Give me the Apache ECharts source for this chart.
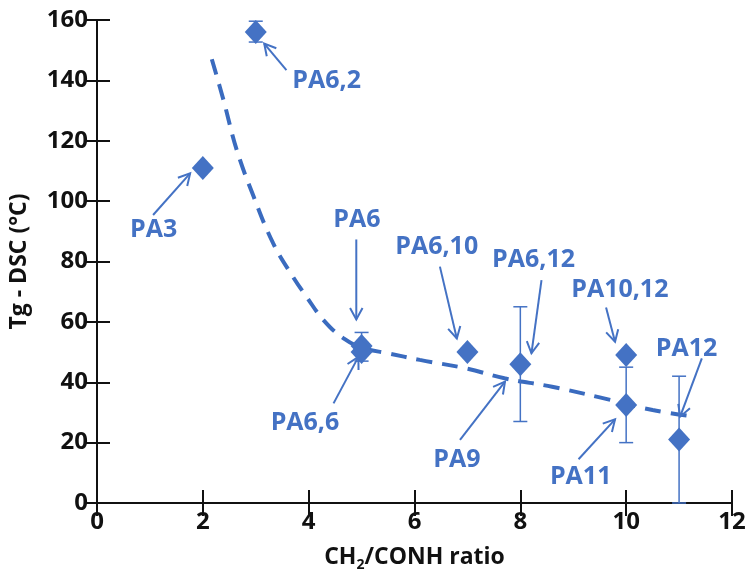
<!DOCTYPE html>
<html>
<head>
<meta charset="utf-8">
<script src="https://cdn.jsdelivr.net/npm/echarts@6/dist/echarts.min.js"></script>
<style>
  html, body { margin: 0; padding: 0; background: #fff; }
  #main { width: 747px; height: 575px; }
</style>
</head>
<body>
<div id="main"></div>
<script>
// measured points (diamonds)
var ratio = [2, 3, 5, 5, 7, 8, 10, 10, 11];
var tg = [111, 156, 52, 50, 50, 46, 49, 32.5, 21];

// error bars: [x, low, high]
var errX = [3, 5, 8, 10, 11];
var errLow = [152.7, 47, 27, 20, 0];
var errHigh = [159.6, 56.5, 65, 45, 42];

// dashed trend line
var trendX = [2.17, 2.39, 2.64, 2.96, 3.33, 3.7, 3.96, 4.28, 4.66, 5.03, 5.5, 6.1, 7.0, 7.7, 8.6, 9.5, 10.5, 11.3];
var trendY = [147, 133.5, 117, 101.5, 86, 75, 68.3, 60.6, 54.5, 51.3, 49.6, 47.4, 44.5, 41.3, 38.5, 35, 30.8, 28.6];

// labels and their arrows
var labelNames = ['PA6,2', 'PA3', 'PA6', 'PA6,6', 'PA6,10', 'PA6,12', 'PA10,12', 'PA12', 'PA9', 'PA11'];
var labelPos = [[4.34, 140], [1.07, 90.4], [4.91, 93.7], [3.93, 26.5], [6.42, 84.9], [8.25, 80.5], [9.88, 70.5], [11.14, 51.2], [6.8, 14.2], [9.14, 8.8]];
var arrowTail = [[3.58, 143.4], [1.06, 95.4], [4.9, 87.3], [4.47, 33], [6.48, 78.3], [8.4, 73.8], [9.62, 64.8], [11.43, 47.9], [6.86, 20.9], [9.1, 14.5]];
var arrowTip = [[3.16, 152.2], [1.76, 109.2], [4.9, 60.8], [4.94, 48.4], [6.8, 54.5], [8.21, 49.6], [9.79, 53.4], [11.02, 28.6], [7.71, 40.2], [9.79, 27.7]];

var blue = '#4472C4';
var font = '"Open Sans"';

var chart = echarts.init(document.getElementById('main'));

var axisLine = { show: true, lineStyle: { color: '#111', width: 2 } };
var axisTick = { show: true, inside: true, length: 13, lineStyle: { color: '#111', width: 2 } };

var option = {
    animation: false,
    grid: { left: 97, right: 15, top: 20, bottom: 72, outerBoundsMode: 'none', containLabel: false },
    xAxis: [
        {
            type: 'value', min: 0, max: 12, interval: 2,
            axisLine: axisLine, axisTick: axisTick, splitLine: { show: false },
            axisLabel: { color: '#111', fontFamily: font, fontWeight: 'bold', fontSize: 24, margin: 7 },
            name: '{a|CH}{s|2}{a|/CONH ratio}',
            nameLocation: 'middle', nameGap: 40,
            nameTextStyle: {
                rich: {
                    a: { color: '#111', fontFamily: font, fontWeight: 'bold', fontSize: 23 },
                    s: { color: '#111', fontFamily: font, fontWeight: 'bold', fontSize: 14, padding: [15, 0, 0, 0] }
                }
            }
        },
        {
            type: 'value', min: 0, max: 12, interval: 2, position: 'top',
            axisLine: axisLine, axisTick: axisTick, axisLabel: { show: false }, splitLine: { show: false }
        }
    ],
    yAxis: [
        {
            type: 'value', min: 0, max: 160, interval: 20,
            axisLine: axisLine, axisTick: axisTick, splitLine: { show: false },
            axisLabel: { color: '#111', fontFamily: font, fontWeight: 'bold', fontSize: 24, margin: 9 },
            name: 'Tg - DSC (°C)', nameLocation: 'middle', nameGap: 66,
            nameTextStyle: { color: '#111', fontFamily: font, fontWeight: 'bold', fontSize: 23 }
        },
        {
            type: 'value', min: 0, max: 160, interval: 20, position: 'right',
            axisLine: axisLine, axisTick: axisTick, axisLabel: { show: false }, splitLine: { show: false }
        }
    ],
    series: [
        {
            type: 'line',
            data: trendX.map(function (x, i) { return [x, trendY[i]]; }),
            smooth: 0.4,
            symbol: 'none',
            lineStyle: { color: '#3A6BBF', width: 4, type: [16, 10] },
            z: 2
        },
        {
            type: 'custom',
            data: errX.map(function (x, i) { return [x, errLow[i], errHigh[i]]; }),
            renderItem: function (params, api) {
                var lo = api.coord([api.value(0), api.value(1)]);
                var hi = api.coord([api.value(0), api.value(2)]);
                var w = 7;
                var st = { stroke: blue, lineWidth: 1.5 };
                return {
                    type: 'group',
                    children: [
                        { type: 'line', shape: { x1: lo[0], y1: lo[1], x2: hi[0], y2: hi[1] }, style: st },
                        { type: 'line', shape: { x1: lo[0] - w, y1: lo[1], x2: lo[0] + w, y2: lo[1] }, style: st },
                        { type: 'line', shape: { x1: hi[0] - w, y1: hi[1], x2: hi[0] + w, y2: hi[1] }, style: st }
                    ]
                };
            },
            clip: false,
            z: 3
        },
        {
            type: 'scatter',
            data: ratio.map(function (x, i) { return [x, tg[i]]; }),
            symbol: 'diamond',
            symbolSize: [22, 24],
            itemStyle: { color: blue, opacity: 1 },
            z: 4
        },
        {
            type: 'custom',
            data: arrowTail.map(function (t, i) { return [t[0], t[1], arrowTip[i][0], arrowTip[i][1]]; }),
            renderItem: function (params, api) {
                var a = api.coord([api.value(0), api.value(1)]);
                var b = api.coord([api.value(2), api.value(3)]);
                var ang = Math.atan2(b[1] - a[1], b[0] - a[0]);
                var len = 13, spread = 0.5;
                var p1 = [b[0] - len * Math.cos(ang - spread), b[1] - len * Math.sin(ang - spread)];
                var p2 = [b[0] - len * Math.cos(ang + spread), b[1] - len * Math.sin(ang + spread)];
                var st = { stroke: blue, lineWidth: 2, fill: null };
                return {
                    type: 'group',
                    children: [
                        { type: 'line', shape: { x1: a[0], y1: a[1], x2: b[0], y2: b[1] }, style: st },
                        { type: 'polyline', shape: { points: [p1, b, p2] }, style: st }
                    ]
                };
            },
            z: 5
        },
        {
            type: 'scatter',
            data: labelPos.map(function (p, i) { return { value: p, name: labelNames[i] }; }),
            symbolSize: 0,
            itemStyle: { opacity: 1 },
            label: {
                show: true, position: 'inside',
                formatter: '{b}',
                color: blue, fontFamily: font, fontWeight: 'bold', fontSize: 25
            },
            z: 6
        }
    ]
};

chart.setOption(option);
</script>
</body>
</html>
